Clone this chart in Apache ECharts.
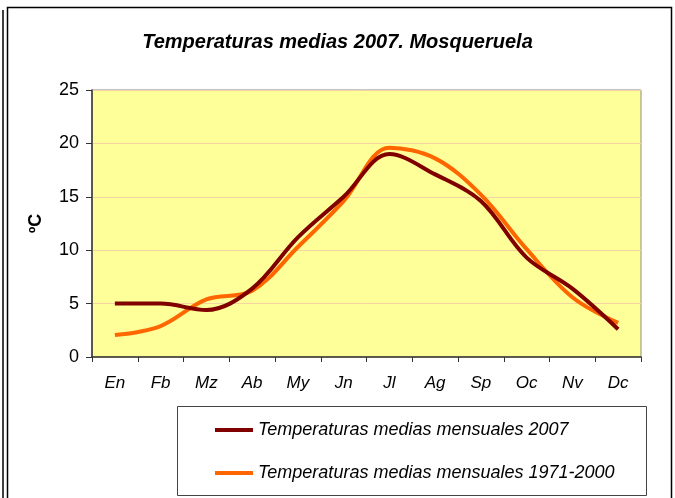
<!DOCTYPE html>
<html>
<head>
<meta charset="utf-8">
<script src="https://cdn.jsdelivr.net/npm/echarts@6/dist/echarts.min.js"></script>
<style>
  html, body { margin: 0; padding: 0; background: #fff; }
  #chart { width: 675px; height: 498px; }
</style>
</head>
<body>
<div id="chart"></div>
<script>
// meses
var months = ['En', 'Fb', 'Mz', 'Ab', 'My', 'Jn', 'Jl', 'Ag', 'Sp', 'Oc', 'Nv', 'Dc']
// temperaturas medias mensuales 2007
var temp2007 = [5.0, 5.0, 4.4, 6.4, 11.2, 15.0, 19.0, 17.1, 14.6, 9.3, 6.4, 2.6]
// temperaturas medias mensuales 1971-2000
var temp7100 = [2.05, 2.9, 5.4, 6.2, 10.3, 14.6, 19.6, 18.6, 15.2, 10.1, 5.6, 3.2]
var yTicks = [0, 5, 10, 15, 20, 25]

var myChart = echarts.init(document.getElementById('chart'))
var font = 'Arial, "Liberation Sans", sans-serif'

var option = {
  backgroundColor: '#fff',
  animation: false,
  title: {
    text: 'Temperaturas medias 2007. Mosqueruela',
    left: 'center',
    top: 27,
    textStyle: {
      fontFamily: font,
      fontSize: 20,
      fontWeight: 'bold',
      fontStyle: 'italic',
      color: '#000'
    }
  },
  grid: {
    left: 92,
    right: 34,
    top: 90,
    bottom: 141,
    show: true,
    backgroundColor: '#ffff99',
    borderColor: '#8c8c8c',
    borderWidth: 1
  },
  legend: {
    orient: 'vertical',
    left: 210,
    top: 415,
    icon: 'rect',
    itemWidth: 38,
    itemHeight: 4,
    itemGap: 23,
    textStyle: {
      fontFamily: font,
      fontSize: 18,
      lineHeight: 20,
      fontStyle: 'italic',
      color: '#000'
    },
    data: ['Temperaturas medias mensuales 2007', 'Temperaturas medias mensuales 1971-2000']
  },
  xAxis: {
    type: 'category',
    data: months,
    boundaryGap: true,
    axisLine: { lineStyle: { color: '#333', width: 1.5 } },
    axisTick: { show: true, length: 5, alignWithLabel: false, lineStyle: { color: '#333' } },
    axisLabel: {
      margin: 18,
      fontFamily: font,
      fontSize: 17,
      fontStyle: 'italic',
      color: '#000'
    }
  },
  yAxis: {
    type: 'value',
    min: yTicks[0],
    max: yTicks[yTicks.length - 1],
    interval: 5,
    name: 'ºC',
    nameLocation: 'middle',
    nameRotate: 90,
    nameGap: 47,
    nameTextStyle: {
      fontFamily: font,
      fontSize: 18,
      fontWeight: 'bold',
      color: '#000'
    },
    axisLine: { show: true, lineStyle: { color: '#333', width: 1.5 } },
    axisTick: { show: true, length: 6, lineStyle: { color: '#333' } },
    axisLabel: {
      margin: 13,
      fontFamily: font,
      fontSize: 18,
      color: '#000'
    },
    splitLine: { lineStyle: { color: '#f6d3a2', width: 1 } }
  },
  graphic: [
    { // marco del grafico
      type: 'rect',
      silent: true,
      shape: { x: 7.5, y: 7.5, width: 664, height: 500 },
      style: { fill: null, stroke: '#000', lineWidth: 1.5 }
    },
    {
      type: 'line',
      silent: true,
      shape: { x1: 3, y1: 10, x2: 3, y2: 498 },
      style: { stroke: '#000', lineWidth: 1.5 }
    },
    { // caja de la leyenda
      type: 'rect',
      silent: true,
      shape: { x: 177.5, y: 406.5, width: 469, height: 89 },
      style: { fill: null, stroke: '#444', lineWidth: 1 }
    }
  ],
  series: [
    {
      name: 'Temperaturas medias mensuales 2007',
      type: 'line',
      data: temp2007,
      smooth: 0.35,
      symbol: 'none',
      color: '#800000',
      lineStyle: { color: '#800000', width: 4 },
      z: 3
    },
    {
      name: 'Temperaturas medias mensuales 1971-2000',
      type: 'line',
      data: temp7100,
      smooth: 0.35,
      symbol: 'none',
      color: '#ff6600',
      lineStyle: { color: '#ff6600', width: 4 },
      z: 2
    }
  ]
}
myChart.setOption(option)
</script>
</body>
</html>
